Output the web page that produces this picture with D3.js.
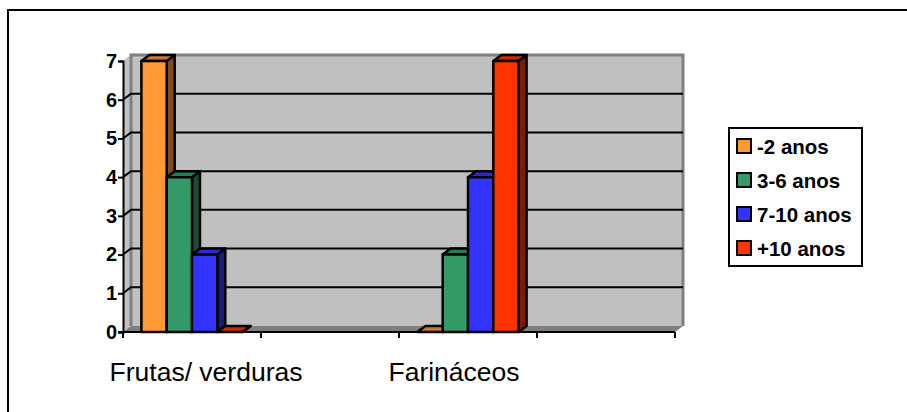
<!DOCTYPE html>
<html>
<head>
<meta charset="utf-8">
<script src="https://cdn.jsdelivr.net/npm/d3@7"></script>
<style>
body { margin: 0; background: #fff; }
text { font-family: "Liberation Sans", Arial, sans-serif; fill: #000; }
</style>
</head>
<body>
<div id="chart"></div>
<script>

// chart data
var categories = ["Frutas/ verduras", "", "Farináceos", " "];
var seriesnames = ["-2 anos", "3-6 anos", "7-10 anos", "+10 anos"];
var novos = [7, 0, 0, 0];
var escolares = [4, 0, 2, 0];
var criancas = [2, 0, 4, 0];
var adultos = [0, 0, 7, 0];
var yticks = [0, 1, 2, 3, 4, 5, 6, 7];

var seriesvalues = [novos, escolares, criancas, adultos];

// front, top and side colors per series
var colors = ["#ff9933", "#339966", "#3333ff", "#ff3300"];
var topcolors = ["#cc7a29", "#297a52", "#2929cc", "#cc2900"];
var sidecolors = ["#804d1a", "#1a4d33", "#1a1a80", "#801a00"];

// 3d offset of the back wall
var depthx = 8, depthy = -6;

var width = 907, height = 412;

var svg = d3.select("#chart")
	.append("svg")
	.attr("width", width)
	.attr("height", height)
	.style("display", "block");

// outer frame, only left and top are inside the picture
svg.append("path")
	.attr("d", "M8,412V10H907")
	.attr("fill", "none")
	.attr("stroke", "#000")
	.attr("stroke-width", 2);

var x = d3.scaleBand()
	.domain(categories)
	.range([123, 675]);

// bars sit inside a band with a gap on both sides
var xseries = d3.scaleBand()
	.domain(d3.range(seriesnames.length))
	.range([0, x.bandwidth()])
	.paddingInner(0)
	.paddingOuter(0.727);

var y = d3.scaleLinear()
	.domain([0, 7])
	.range([332, 61]);

// walls and floor
var wall = svg.append("g");

wall.append("path")
	.attr("d", "M" + (x.range()[0] + depthx) + "," + (y(7) + depthy)
		+ "H" + (x.range()[1] + depthx)
		+ "V" + (y(0) + depthy)
		+ "H" + (x.range()[0] + depthx) + "Z")
	.attr("fill", "#c0c0c0");

wall.append("path")
	.attr("d", "M" + x.range()[0] + "," + y(7)
		+ "L" + (x.range()[0] + depthx) + "," + (y(7) + depthy)
		+ "V" + (y(0) + depthy)
		+ "L" + x.range()[0] + "," + y(0) + "Z")
	.attr("fill", "#c0c0c0");

wall.append("path")
	.attr("d", "M" + x.range()[0] + "," + y(0)
		+ "L" + (x.range()[0] + depthx) + "," + (y(0) + depthy)
		+ "H" + (x.range()[1] + depthx)
		+ "L" + x.range()[1] + "," + y(0) + "Z")
	.attr("fill", "#808080");

// wall edges in dark grey
wall.append("path")
	.attr("d", "M" + (x.range()[0] + depthx) + "," + (y(0) + depthy)
		+ "V" + (y(7) + depthy)
		+ "H" + (x.range()[1] + depthx)
		+ "V" + (y(0) + depthy))
	.attr("fill", "none")
	.attr("stroke", "#808080")
	.attr("stroke-width", 3);

// gridlines, bent over the side wall
wall.selectAll("path.grid")
	.data(yticks.slice(1, 7))
	.enter()
	.append("path")
	.attr("class", "grid")
	.attr("d", function(d){

		return "M" + x.range()[0] + "," + y(d)
			+ "L" + (x.range()[0] + depthx) + "," + (y(d) + depthy)
			+ "H" + (x.range()[1] + depthx);
	})
	.attr("fill", "none")
	.attr("stroke", "#000")
	.attr("stroke-width", 2);

// zero bars are drawn only in the two filled categories
function isZeroBar(s, c){

	return (c === 0 && s === 3) || (c === 2 && s === 0);
}

// bars, back to front is left to right
var bars = svg.append("g");

seriesvalues.forEach(function(values, s){

	values.forEach(function(v, c){

		if (v === 0 && !isZeroBar(s, c)) return;

		var x0 = x(categories[c]) + xseries(s),
			x1 = x0 + xseries.bandwidth(),
			ytop = y(v),
			ybase = y(0);

		var g = bars.append("g")
			.attr("stroke", "#000")
			.attr("stroke-width", 2.5)
			.attr("stroke-linejoin", "round");

		// side face
		g.append("path")
			.attr("d", "M" + x1 + "," + ytop
				+ "l" + depthx + "," + depthy
				+ "V" + (ybase + depthy)
				+ "L" + x1 + "," + ybase + "Z")
			.attr("fill", sidecolors[s]);

		// top face
		g.append("path")
			.attr("d", "M" + x0 + "," + ytop
				+ "l" + depthx + "," + depthy
				+ "H" + (x1 + depthx)
				+ "L" + x1 + "," + ytop + "Z")
			.attr("fill", topcolors[s]);

		// front face
		g.append("rect")
			.attr("x", x0)
			.attr("y", ytop)
			.attr("width", x1 - x0)
			.attr("height", ybase - ytop)
			.attr("fill", colors[s]);
	});
});

// value axis
var yaxis = svg.append("g")
	.attr("transform", "translate(" + x.range()[0] + ",0)")
	.call(d3.axisLeft(y).tickValues(yticks).tickFormat(d3.format("d")).tickSize(5).tickPadding(1));

yaxis.selectAll("line, path").attr("stroke", "#000").attr("stroke-width", 2);
yaxis.selectAll("text")
	.style("font-size", "20px")
	.style("font-weight", "bold");

// category axis
var bandedges = categories.map(function(c){ return x(c); }).concat([x.range()[1]]);

var xaxis = svg.append("g");

xaxis.append("line")
	.attr("x1", x.range()[0] - 5)
	.attr("x2", x.range()[1])
	.attr("y1", y(0))
	.attr("y2", y(0))
	.attr("stroke", "#000")
	.attr("stroke-width", 2);

xaxis.selectAll("line.tick")
	.data(bandedges)
	.enter()
	.append("line")
	.attr("class", "tick")
	.attr("x1", function(d){ return d; })
	.attr("x2", function(d){ return d; })
	.attr("y1", y(0))
	.attr("y2", y(0) + 6)
	.attr("stroke", "#000")
	.attr("stroke-width", 2);

// labels are pulled towards each other in the original
xaxis.selectAll("text")
	.data(categories.slice(0, 3))
	.enter()
	.append("text")
	.attr("x", function(d, i){ return x(d) + x.bandwidth() / 2 + (i === 0 ? 14 : -14); })
	.attr("y", 381)
	.attr("text-anchor", "middle")
	.style("font-size", "26.5px")
	.text(function(d){ return d; });

// legend
var legend = svg.append("g");

legend.append("rect")
	.attr("x", 729)
	.attr("y", 128)
	.attr("width", 133)
	.attr("height", 138)
	.attr("fill", "#fff")
	.attr("stroke", "#000")
	.attr("stroke-width", 2);

var legenditem = legend.selectAll("g.item")
	.data(seriesnames)
	.enter()
	.append("g")
	.attr("class", "item")
	.attr("transform", function(d, i){

		return "translate(737," + (146 + i * 34) + ")";
	});

legenditem.append("rect")
	.attr("x", 0)
	.attr("y", -7)
	.attr("width", 14)
	.attr("height", 14)
	.attr("fill", function(d, i){ return colors[i]; })
	.attr("stroke", "#000")
	.attr("stroke-width", 2);

legenditem.append("text")
	.attr("x", 20)
	.attr("y", 8)
	.style("font-size", "20.5px")
	.style("font-weight", "bold")
	.text(function(d){ return d; });

</script>
</body>
</html>
